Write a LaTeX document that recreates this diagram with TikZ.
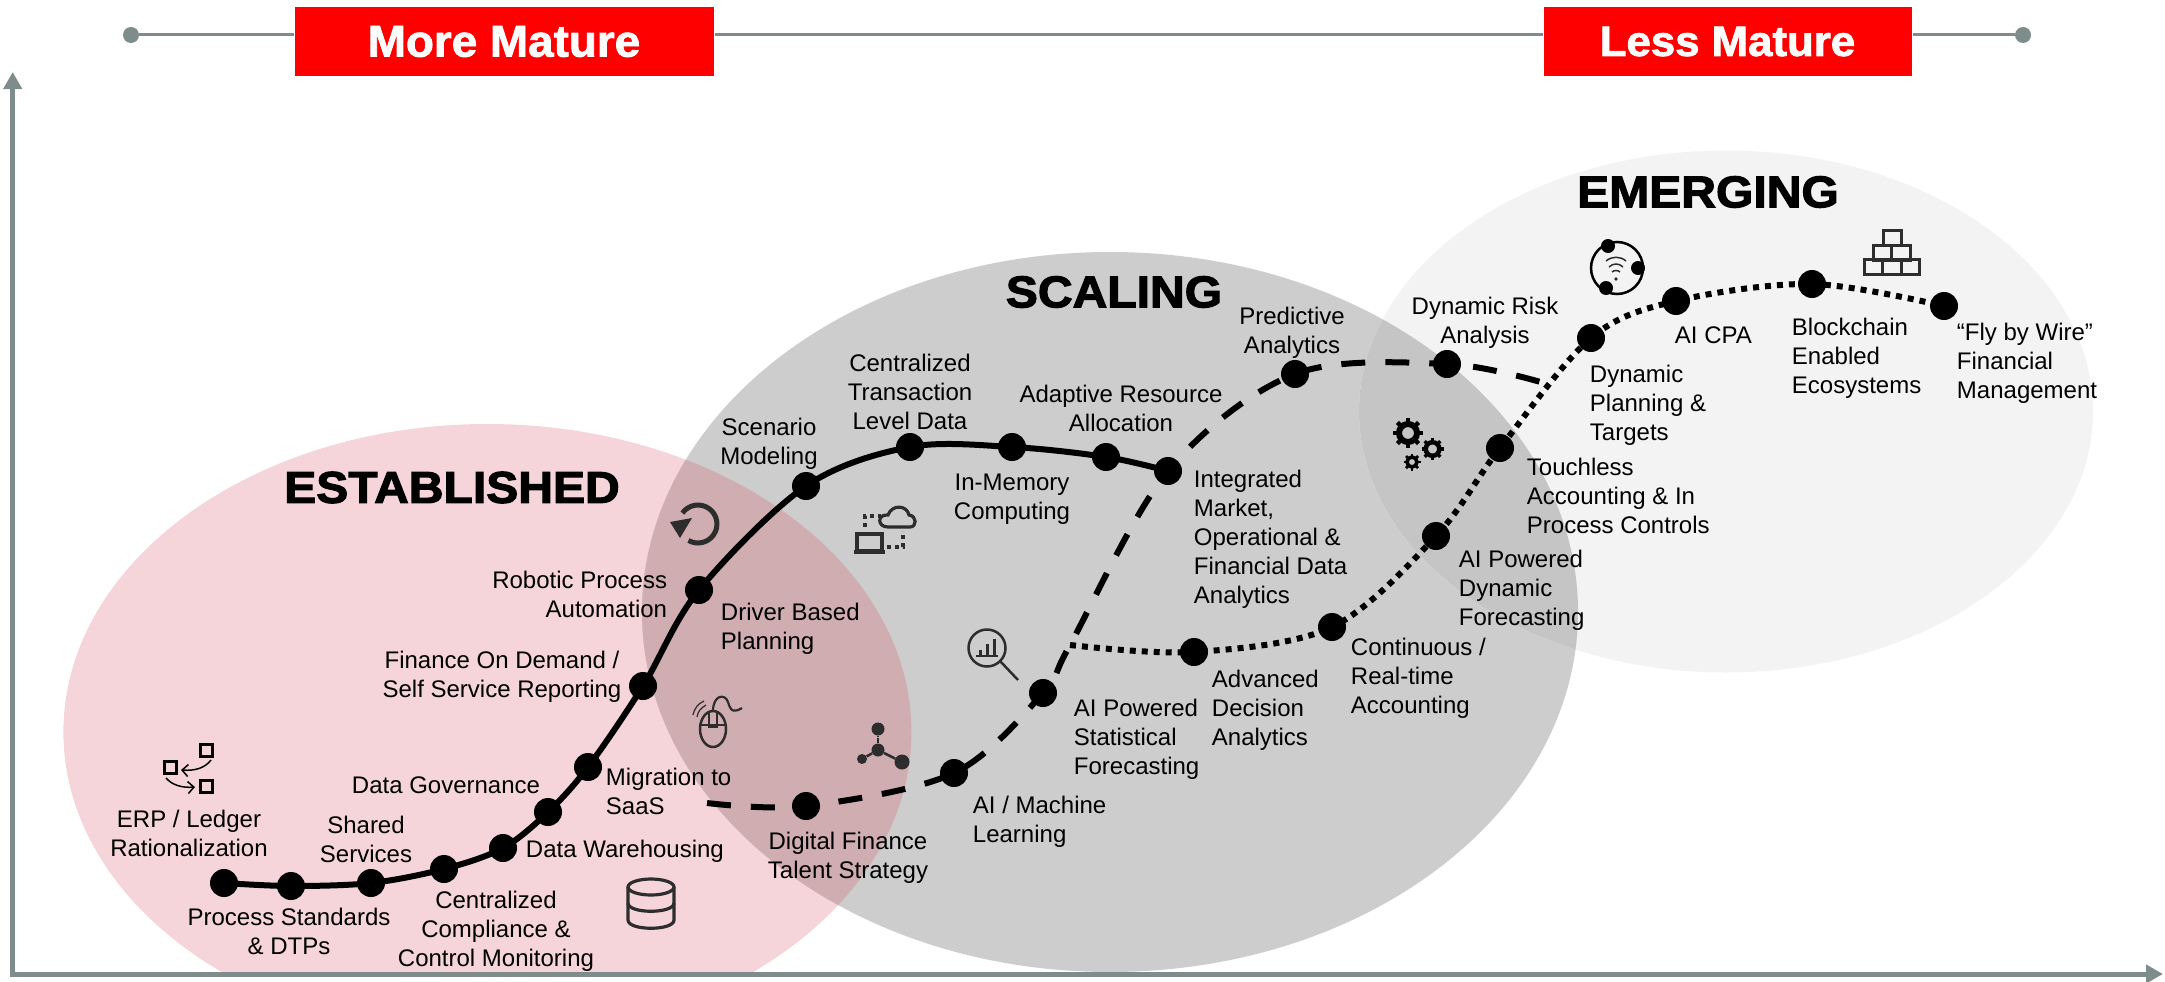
\documentclass[tikz,border=0pt]{standalone}
\usepackage{fontspec}
\setmainfont{Liberation Sans}
\newfontfamily\headfont[FakeBold=2.5,FakeStretch=1.08]{Liberation Sans Bold}
\newfontfamily\bannerfont[FakeBold=1.8,FakeStretch=1.03]{Liberation Sans Bold}
\usetikzlibrary{arrows.meta}
\definecolor{axisgrey}{RGB}{127,140,140}
\definecolor{estpink}{RGB}{245,213,217}
\definecolor{scalegrey}{RGB}{205,205,205}
\definecolor{estscale}{RGB}{207,173,176}
\definecolor{emergegrey}{RGB}{243,243,243}
\definecolor{emergescale}{RGB}{197,197,197}
\definecolor{iconink}{RGB}{45,45,45}
\tikzset{
  lbl/.style={inner sep=0.75pt,font=\fontsize{24}{29}\selectfont},
  lblleft/.style={lbl,anchor=west,align=left},
  lblmid/.style={lbl,align=center},
  lblright/.style={lbl,anchor=east,align=right},
  heading/.style={inner sep=0pt,font=\headfont\fontsize{44.5}{44.5}\selectfont},
  banner/.style={fill=red,draw=white,line width=1pt,text=white,inner sep=0pt,font=\bannerfont\fontsize{44.5}{44.5}\selectfont},
  dot/.style={circle,fill=black,inner sep=0pt,minimum size=28pt},
  endpt/.style={circle,fill=axisgrey,inner sep=0pt,minimum size=16pt},
  solidcurve/.style={line width=6pt},
  dashcurve/.style={line width=6pt,dash pattern=on 24pt off 20pt},
  dotcurve/.style={line width=6pt,dash pattern=on 6pt off 6pt},
  icon/.style={draw=iconink,line width=2.5pt},
}
\begin{document}
\begin{tikzpicture}[x=1pt,y=1pt,yscale=-1]
\useasboundingbox (0,0) rectangle (2165,982);

%Shape: Ellipse
\begin{scope}
\clip (0,0) rectangle (2165,972);
\fill [estpink] (487.4,732) ellipse (424 and 308);
\end{scope}
\fill [scalegrey] (1110,612) ellipse (468 and 360);
\begin{scope}
\clip (1110,612) ellipse (468 and 360);
\clip (0,0) rectangle (2165,972);
\fill [estscale] (487.4,732) ellipse (424 and 308);
\end{scope}
\fill [emergegrey] (1726,411.5) ellipse (367 and 261);
\begin{scope}
\clip (1110,612) ellipse (468 and 360);
\fill [emergescale] (1726,411.5) ellipse (367 and 261);
\end{scope}

%Axes
\draw [axisgrey,line width=5pt,-{Triangle[width=18pt,length=17pt]}] (12.7,976) -- (12.7,72);
\draw [axisgrey,line width=5pt,-{Triangle[width=18pt,length=17pt]}] (10,974) -- (2163,974);

%Maturity bar
\node (startpt) [endpt] at (131,35) {};
\node (finishpt) [endpt] at (2023,35) {};
\draw [axisgrey,line width=3pt] (startpt) -- (finishpt);
\node (moremature) [banner,minimum width=420pt,minimum height=70pt] at (504,41.5) {More Mature};
\node (lessmature) [banner,minimum width=369pt,minimum height=70pt] at (1727.5,41.5) {\fontsize{42.5}{42.5}\selectfont Less Mature};

%Dots on the solid curve
\foreach \nm/\px/\py in {a1/224/883,a2/291/886,a3/371/883,a4/444/869,a5/503/848,a6/548/812,a7/588/767,a8/643/686,a9/699/590,a10/806/486,a11/910/447,a12/1012/447,a13/1106/457,a14/1168/471}
  \node (\nm) [dot] at (\px,\py) {};
%Dots on the dashed curve
\foreach \nm/\px/\py in {b1/806/806,b2/954/773,b3/1043/693,b4/1295/374,b5/1447/364}
  \node (\nm) [dot] at (\px,\py) {};
%Dots on the dotted curve
\foreach \nm/\px/\py in {c1/1194/652,c2/1332/627,c3/1436/536,c4/1500/448,c5/1591/338,c6/1676/301,c7/1812/284,c8/1944/306}
  \node (\nm) [dot] at (\px,\py) {};

\coordinate (dashstart) at (707,803);
\coordinate (dashend) at (1544,383);
\coordinate (dotstart) at (1070,645);

%Curves
\draw [solidcurve] plot [smooth,tension=0.55] coordinates {(a1) (a2) (a3) (a4) (a5) (a6) (a7) (a8) (a9) (a10) (a11) (a12) (a13) (a14)};
\draw [dashcurve] plot [smooth,tension=0.55] coordinates {(dashstart) (b1) (b2) (b3) (dotstart) (a14) (b4) (b5) (dashend)};
\draw [dotcurve] plot [smooth,tension=0.55] coordinates {(dotstart) (c1) (c2) (c3) (c4) (c5) (c6) (c7) (c8)};

% Text Node
\node (established) [heading] at (452,487.5) {ESTABLISHED};
\node (scaling) [heading] at (1114,292) {SCALING};
\node (emerging) [heading] at (1708,192) {EMERGING};

% Text Node
\node (erp) [lblmid] at (189,833) {ERP / Ledger\\Rationalization};
\node (process) [lblmid] at (289,931) {Process Standards\\\& DTPs};
\node (shared) [lblmid] at (366,839) {Shared\\Services};
\node (compliance) [lblmid] at (496,931) {Centralized\\Compliance \&\\Control Monitoring};
\node (governance) [lblmid] at (446,785) {Data Governance};
\node (warehouse) [lblleft] at (525,851) {Data Warehousing};
\node (migration) [lblleft] at (605,791) {Migration to\\SaaS};
\node (ondemand) [lblmid] at (502,677) {Finance On Demand /\\Self Service Reporting};
\node (robotic) [lblright] at (668,594) {Robotic Process\\Automation};
\node (driver) [lblleft] at (720,629) {Driver Based\\Planning};
\node (scenario) [lblmid] at (769,444) {Scenario\\Modeling};
\node (transaction) [lblmid] at (910,392) {Centralized\\Transaction\\Level Data};
\node (memory) [lblmid] at (1012,499) {In-Memory\\Computing};
\node (adaptive) [lblmid] at (1121,408) {Adaptive Resource\\Allocation};
\node (integrated) [lblleft] at (1193,539) {Integrated\\Market,\\Operational \&\\Financial Data\\Analytics};
\node (predictive) [lblmid] at (1292,333) {Predictive\\Analytics};
\node (risk) [lblmid] at (1485,323) {Dynamic Risk\\Analysis};
\node (planning) [lblleft] at (1589,405) {Dynamic\\Planning \&\\Targets};
\node (cpa) [lblleft] at (1674,335) {AI CPA};
\node (blockchain) [lblleft] at (1791,358) {Blockchain\\Enabled\\Ecosystems};
\node (flybywire) [lblleft] at (1956,363) {“Fly by Wire”\\Financial\\Management};
\node (touchless) [lblleft] at (1526,496) {Touchless\\Accounting \& In\\Process Controls};
\node (dynforecast) [lblleft] at (1458,590) {AI Powered\\Dynamic\\Forecasting};
\node (continuous) [lblleft] at (1350,678) {Continuous /\\Real-time\\Accounting};
\node (decision) [lblleft] at (1211,710) {Advanced\\Decision\\Analytics};
\node (statforecast) [lblleft] at (1073,739) {AI Powered\\Statistical\\Forecasting};
\node (machine) [lblleft] at (972,822) {AI / Machine\\Learning};
\node (talent) [lblmid] at (848,858) {Digital Finance\\Talent Strategy};

%Icon: squares
\foreach \px/\py in {206/750,170/767,206/786}
  \draw [draw=black,line width=3pt] (\px-6,\py-6) rectangle (\px+6,\py+6);
\draw [black,line width=1.5pt,-{Straight Barb[length=6pt]}] (211,760) .. controls (205,768) and (195,771) .. (181,770);
\draw [black,line width=1.5pt,-{Straight Barb[length=6pt]}] (166,778) .. controls (172,785) and (182,788) .. (195,787);

%Icon: database
\draw [icon,line width=3.2pt] (628,887) -- (628,920) .. controls (628,931) and (674,931) .. (674,920) -- (674,887);
\draw [icon,line width=3.2pt] (651,887) ellipse (23 and 8);
\draw [icon,line width=3.2pt] (628,903) .. controls (628,914) and (674,914) .. (674,903);

%Icon: mouse
\draw [icon] (713,729) ellipse (13 and 18);
\draw [icon,line width=1.5pt] (700,725) -- (726,725) (709,713) -- (709,727) -- (717,727) -- (717,713);
\draw [icon,line width=2.2pt] (713,711) .. controls (713,695) and (725,693) .. (728,702) .. controls (731,713) and (735,712) .. (742,708);
\draw [icon,line width=1.2pt] (693,715) .. controls (695,707) and (698,704) .. (704,701);
\draw [icon,line width=1.2pt] (697,717) .. controls (698,711) and (701,708) .. (706,705);

%Icon: refresh
\draw [icon,line width=5pt] (682.4,513.1) arc (-145:120:19);
\fill [iconink] (670,522) -- (692,518) -- (680,538) -- cycle;

%Icon: laptop and cloud
\draw [icon,line width=3.2pt] (857,534) rectangle (882,551);
\draw [icon,line width=3.2pt] (854,552) -- (885,552);
\draw [icon,line width=3.5pt,dash pattern=on 4pt off 4pt] (865,527) -- (865,516) -- (881,516);
\draw [icon,line width=3.5pt,dash pattern=on 4pt off 4pt] (887,547) -- (903,547) -- (903,531);
\draw [icon,line width=3.2pt] (888,527) .. controls (877,527) and (877,514) .. (888,515) .. controls (892,504) and (907,505) .. (909,515) .. controls (917,516) and (917,527) .. (910,527) -- cycle;

%Icon: magnifier
\draw [icon] (987,648) circle (18.5);
\draw [icon] (1000,661) -- (1018,680);
\draw [icon,line width=3pt] (980,655) -- (980,650) (987,655) -- (987,644) (994,655) -- (994,639);
\draw [icon,line width=1.5pt] (976,656) -- (998,656);

%Icon: network
\node (nethub) [circle,fill=iconink,inner sep=0pt,minimum size=13pt] at (878,750) {};
\node (nettop) [circle,fill=iconink,inner sep=0pt,minimum size=13pt] at (878,729) {};
\node (netleft) [circle,fill=iconink,inner sep=0pt,minimum size=10pt] at (862,759) {};
\node (netright) [circle,fill=iconink,inner sep=0pt,minimum size=15pt] at (902,762) {};
\draw [icon,dash pattern=on 5pt off 1pt] (nethub) -- (nettop);
\draw [icon] (nethub) -- (netleft);
\draw [icon] (nethub) -- (netright);

%Icon: gears
\foreach \px/\py/\rr/\wd/\rt/\tw in {1408/433/9/6/15/4.5,1432.5/449/6.8/4.5/11/3.5,1412/462/5/3.6/8.5/2.8}{
  \draw [black,line width=\wd pt] (\px,\py) circle (\rr);
  \foreach \aa in {0,45,...,315}
    \draw [black,line width=\tw pt] (\px,\py) ++(\aa:\rr) -- ++(\aa:\rt-\rr);
}

%Icon: wifi ring
\draw [black,line width=2.5pt] (1617,268) circle (26);
\fill [black] (1608,246) circle (7) (1638,268) circle (7) (1606,288) circle (7);
\draw [iconink,line width=1.5pt] (1606,261) .. controls (1612,256) and (1620,256) .. (1626,261);
\draw [iconink,line width=1.5pt] (1609,267) .. controls (1613,263) and (1619,263) .. (1623,267);
\draw [iconink,line width=1.5pt] (1612,272) .. controls (1614,270) and (1618,270) .. (1620,272);
\fill [iconink] (1616,279) circle (1.8);

%Icon: bricks
\foreach \xa/\ya in {1864/259,1882.5/259,1901/259,1873/245,1891.5/245,1883/230}
  \draw [iconink,line width=3pt] (\xa,\ya) rectangle ++(18.5,15);

\end{tikzpicture}
\end{document}
